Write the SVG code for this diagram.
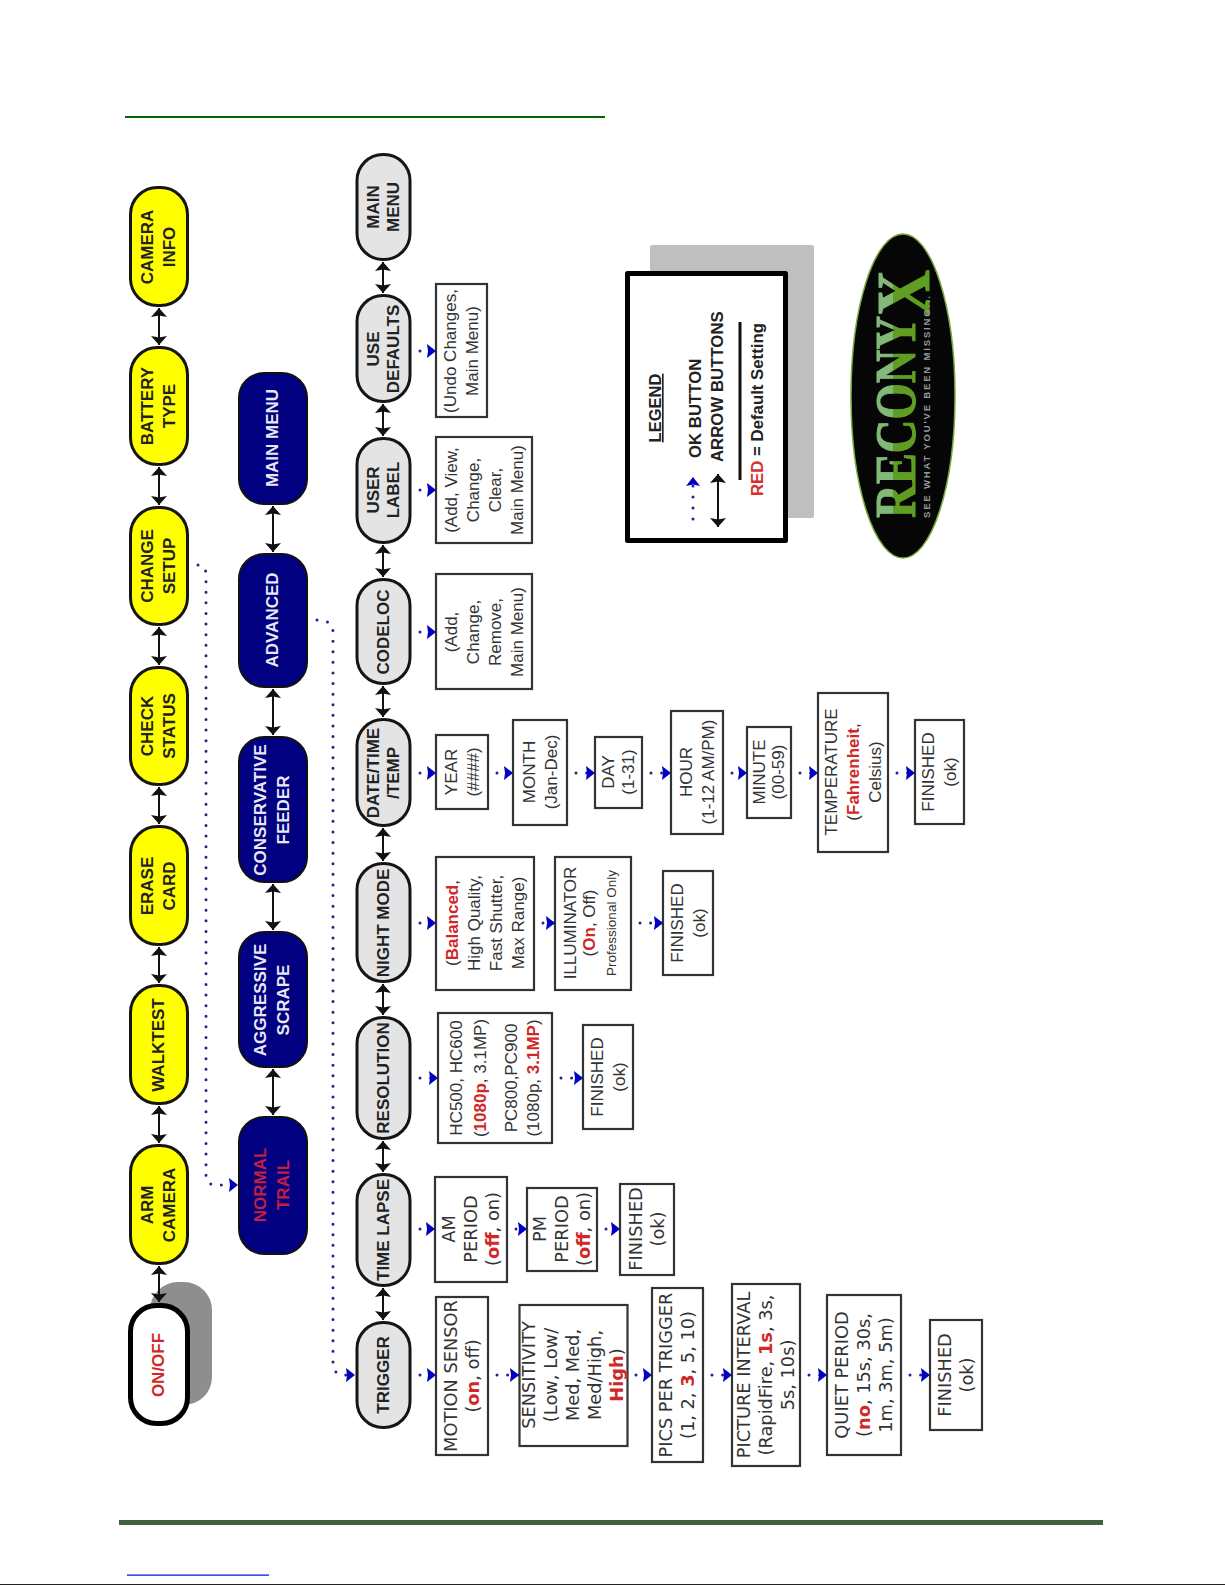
<svg xmlns="http://www.w3.org/2000/svg" width="1225" height="1585" viewBox="0 0 1225 1585">
<style>
text{font-family:"Liberation Sans",Arial,sans-serif;text-anchor:middle;fill:#222}
.n text,text.b{font-weight:bold;font-size:17px}
.y rect{fill:#ffff00;stroke:#151515;stroke-width:3}
.g rect{fill:#e4e4e4;stroke:#151515;stroke-width:3}
.d rect{fill:#000080;stroke:#111;stroke-width:2}
.d text{fill:#e8e8f4}
.box rect{fill:#fff;stroke:#333;stroke-width:2.2}
.box text{font-size:17px;fill:#333}
.dv text{font-family:"DejaVu Sans",sans-serif;font-size:17.8px}
.r{fill:#d02828;font-weight:bold}
.a{fill:none;stroke:#111;stroke-width:2;marker-start:url(#ah);marker-end:url(#ah)}
.o{fill:none;stroke:#22228a;stroke-width:3;stroke-linecap:round;stroke-dasharray:0 10.6;marker-end:url(#bh)}
.l{text-anchor:start}
</style>
<defs>
<marker id="ah" viewBox="-10 -9 11 18" refX="0" refY="0" markerUnits="userSpaceOnUse" markerWidth="11" markerHeight="18" orient="auto-start-reverse"><path d="M-9 -8L0 0L-9 8L-7.500 0z" fill="#111"/></marker>
<marker id="bh" viewBox="-10 -8 11 16" refX="0" refY="0" markerUnits="userSpaceOnUse" markerWidth="11" markerHeight="16" orient="auto"><path d="M-9 -7L0 0L-9 7L-8 0z" fill="#0000c0"/></marker>
<linearGradient id="rx" gradientUnits="userSpaceOnUse" x1="0" y1="-40" x2="0" y2="40"><stop offset="0.22" stop-color="#82b878"/><stop offset="0.22" stop-color="#5f9e22"/></linearGradient>
</defs>
<rect width="1225" height="1585" fill="#fff"/>
<rect x="125" y="116" width="480" height="2" fill="#006400"/>
<rect x="119" y="1520" width="984" height="5" fill="#3f6142"/>
<rect x="127" y="1574.5" width="142" height="1.2" fill="#0000ee"/>
<rect x="0" y="1584" width="1225" height="1" fill="#222"/>

<g class="n y">
<g id="on-off"><rect x="150" y="1282" width="62" height="123" rx="28" style="fill:#8e8e8e;stroke:none"/><rect x="130.500" y="1305.500" width="57" height="118" rx="26" style="fill:#fff;stroke:#000;stroke-width:5"/><text transform="translate(158,1365) rotate(-90)" y="6" style="fill:#d02828">ON/OFF</text></g>
<g id="arm-camera"><rect x="130.500" y="1145.500" width="57" height="118" rx="27"/><text transform="translate(158,1205) rotate(-90)"><tspan x="0" y="-5">ARM</tspan><tspan x="0" y="17">CAMERA</tspan></text></g>
<g id="walktest"><rect x="130.500" y="985.500" width="57" height="118" rx="27"/><text transform="translate(158,1045) rotate(-90)" y="6">WALKTEST</text></g>
<g id="erase-card"><rect x="130.500" y="826.500" width="57" height="118" rx="27"/><text transform="translate(158,886) rotate(-90)"><tspan x="0" y="-5">ERASE</tspan><tspan x="0" y="17">CARD</tspan></text></g>
<g id="check-status"><rect x="130.500" y="667.500" width="57" height="117" rx="27"/><text transform="translate(158,726) rotate(-90)"><tspan x="0" y="-5">CHECK</tspan><tspan x="0" y="17">STATUS</tspan></text></g>
<g id="change-setup"><rect x="130.500" y="507.500" width="57" height="117" rx="27"/><text transform="translate(158,566) rotate(-90)"><tspan x="0" y="-5">CHANGE</tspan><tspan x="0" y="17">SETUP</tspan></text></g>
<g id="battery-type"><rect x="130.500" y="347.500" width="57" height="117" rx="27"/><text transform="translate(158,406) rotate(-90)"><tspan x="0" y="-5">BATTERY</tspan><tspan x="0" y="17">TYPE</tspan></text></g>
<g id="camera-info"><rect x="130.500" y="187.500" width="57" height="118" rx="27"/><text transform="translate(158,247) rotate(-90)"><tspan x="0" y="-5">CAMERA</tspan><tspan x="0" y="17">INFO</tspan></text></g>
</g>

<g class="n d">
<g id="normal-trail"><rect x="239" y="1117" width="68" height="137" rx="25"/><text transform="translate(272,1185) rotate(-90)"><tspan x="0" y="-6" style="fill:#c41e40">NORMAL</tspan><tspan x="0" y="17" style="fill:#c41e40">TRAIL</tspan></text></g>
<g id="aggressive-scrape"><rect x="239" y="932" width="68" height="135" rx="25"/><text transform="translate(272,1000) rotate(-90)"><tspan x="0" y="-6">AGGRESSIVE</tspan><tspan x="0" y="17">SCRAPE</tspan></text></g>
<g id="conservative-feeder"><rect x="239" y="737" width="68" height="145" rx="25"/><text transform="translate(272,810) rotate(-90)"><tspan x="0" y="-6">CONSERVATIVE</tspan><tspan x="0" y="17">FEEDER</tspan></text></g>
<g id="advanced"><rect x="239" y="554" width="68" height="133" rx="25"/><text transform="translate(272,620) rotate(-90)" y="6">ADVANCED</text></g>
<g id="main-menu-blue"><rect x="239" y="373" width="68" height="131" rx="25"/><text transform="translate(272,438) rotate(-90)" y="6">MAIN MENU</text></g>
</g>

<g class="n g">
<g id="trigger"><rect x="357" y="1322.500" width="53" height="105" rx="26"/><text transform="translate(383,1375) rotate(-90)" y="6">TRIGGER</text></g>
<g id="time-lapse"><rect x="357" y="1174.500" width="53" height="111" rx="26"/><text transform="translate(383,1230) rotate(-90)" y="6">TIME LAPSE</text></g>
<g id="resolution"><rect x="357" y="1017.500" width="53" height="121" rx="26"/><text transform="translate(383,1078) rotate(-90)" y="6">RESOLUTION</text></g>
<g id="night-mode"><rect x="357" y="863.500" width="53" height="118" rx="26"/><text transform="translate(383,923) rotate(-90)" y="6">NIGHT MODE</text></g>
<g id="date-time-temp"><rect x="357" y="719.500" width="53" height="106" rx="26"/><text transform="translate(383,773) rotate(-90)"><tspan x="0" y="-4">DATE/TIME</tspan><tspan x="0" y="16">/TEMP</tspan></text></g>
<g id="codeloc"><rect x="357" y="579.500" width="53" height="104" rx="26"/><text transform="translate(383,632) rotate(-90)" y="6">CODELOC</text></g>
<g id="user-label"><rect x="357" y="438.500" width="53" height="104" rx="26"/><text transform="translate(383,490) rotate(-90)"><tspan x="0" y="-4">USER</tspan><tspan x="0" y="16">LABEL</tspan></text></g>
<g id="use-defaults"><rect x="357" y="295.500" width="53" height="106" rx="26"/><text transform="translate(383,349) rotate(-90)"><tspan x="0" y="-4">USE</tspan><tspan x="0" y="16">DEFAULTS</tspan></text></g>
<g id="main-menu-gray"><rect x="357" y="154.500" width="53" height="105" rx="26"/><text transform="translate(383,207) rotate(-90)"><tspan x="0" y="-4">MAIN</tspan><tspan x="0" y="16">MENU</tspan></text></g>
</g>

<g class="box dv">
<g id="motion-sensor"><rect x="436" y="1297" width="52" height="158"/><text transform="translate(462,1376) rotate(-90)"><tspan x="0" y="-5">MOTION SENSOR</tspan><tspan x="0" y="17">(<tspan class="r">on</tspan>, off)</tspan></text></g>
<g id="sensitivity"><rect x="519.500" y="1305" width="108" height="141"/><text transform="translate(573,1375) rotate(-90)"><tspan x="0" y="-38">SENSITIVITY</tspan><tspan x="0" y="-16">(Low, Low/</tspan><tspan x="0" y="6">Med, Med,</tspan><tspan x="0" y="28">Med/High,</tspan><tspan x="0" y="50"><tspan class="r">High</tspan>)</tspan></text></g>
<g id="pics-per-trigger"><rect x="652" y="1288" width="51" height="174"/><text transform="translate(677,1375) rotate(-90)"><tspan x="0" y="-5">PICS PER TRIGGER</tspan><tspan x="0" y="17">(1, 2, <tspan class="r">3</tspan>, 5, 10)</tspan></text></g>
<g id="picture-interval"><rect x="732" y="1284" width="68" height="182"/><text transform="translate(766,1375) rotate(-90)"><tspan x="0" y="-16">PICTURE INTERVAL</tspan><tspan x="0" y="6">(RapidFire, <tspan class="r">1s</tspan>, 3s,</tspan><tspan x="0" y="28">5s, 10s)</tspan></text></g>
<g id="quiet-period"><rect x="827" y="1295" width="74" height="160"/><text transform="translate(864,1375) rotate(-90)"><tspan x="0" y="-16">QUIET PERIOD</tspan><tspan x="0" y="6">(<tspan class="r">no</tspan>, 15s, 30s,</tspan><tspan x="0" y="28">1m, 3m, 5m)</tspan></text></g>
<g id="finished-trigger"><rect x="930" y="1320" width="52" height="110"/><text transform="translate(956,1375) rotate(-90)"><tspan x="0" y="-5">FINISHED</tspan><tspan x="0" y="17">(ok)</tspan></text></g>
<g id="am-period"><rect x="435" y="1177" width="72" height="105"/><text transform="translate(471,1229) rotate(-90)"><tspan x="0" y="-16">AM</tspan><tspan x="0" y="6">PERIOD</tspan><tspan x="0" y="28">(<tspan class="r">off</tspan>, on)</tspan></text></g>
<g id="pm-period"><rect x="527" y="1188" width="70" height="83"/><text transform="translate(562,1229) rotate(-90)"><tspan x="0" y="-16">PM</tspan><tspan x="0" y="6">PERIOD</tspan><tspan x="0" y="28">(<tspan class="r">off</tspan>, on)</tspan></text></g>
<g id="finished-timelapse"><rect x="620" y="1184" width="54" height="91"/><text transform="translate(647,1229) rotate(-90)"><tspan x="0" y="-5">FINISHED</tspan><tspan x="0" y="17">(ok)</tspan></text></g>
</g>

<g class="box">
<g id="resolution-options"><rect x="438" y="1013" width="114" height="130"/><text transform="translate(495,1078) rotate(-90)"><tspan x="0" y="-33">HC500, HC600</tspan><tspan x="0" y="-9">(<tspan class="r">1080p</tspan>, 3.1MP)</tspan><tspan x="0" y="22">PC800,PC900</tspan><tspan x="0" y="44">(1080p, <tspan class="r">3.1MP</tspan>)</tspan></text></g>
<g id="finished-resolution"><rect x="583" y="1025" width="50" height="104"/><text transform="translate(608,1077) rotate(-90)"><tspan x="0" y="-5">FINISHED</tspan><tspan x="0" y="17">(ok)</tspan></text></g>
<g id="night-options"><rect x="436" y="857" width="98" height="133"/><text transform="translate(485,923) rotate(-90)"><tspan x="0" y="-27">(<tspan class="r">Balanced</tspan>,</tspan><tspan x="0" y="-5">High Quality,</tspan><tspan x="0" y="17">Fast Shutter,</tspan><tspan x="0" y="39">Max Range)</tspan></text></g>
<g id="illuminator"><rect x="555" y="857" width="76" height="133"/><text transform="translate(593,923) rotate(-90)"><tspan x="0" y="-17">ILLUMINATOR</tspan><tspan x="0" y="2">(<tspan class="r">On</tspan>, Off)</tspan><tspan x="0" y="23" style="font-size:13.500px">Professional Only</tspan></text></g>
<g id="finished-night"><rect x="663" y="871" width="50" height="104"/><text transform="translate(688,923) rotate(-90)"><tspan x="0" y="-5">FINISHED</tspan><tspan x="0" y="17">(ok)</tspan></text></g>
<g id="year"><rect x="436" y="735" width="52" height="74"/><text transform="translate(462,772) rotate(-90)"><tspan x="0" y="-5">YEAR</tspan><tspan x="0" y="17">(####)</tspan></text></g>
<g id="month"><rect x="513" y="720" width="54" height="105"/><text transform="translate(540,772) rotate(-90)"><tspan x="0" y="-5">MONTH</tspan><tspan x="0" y="17">(Jan-Dec)</tspan></text></g>
<g id="day"><rect x="595" y="737" width="47" height="71"/><text transform="translate(618,772) rotate(-90)"><tspan x="0" y="-4">DAY</tspan><tspan x="0" y="16">(1-31)</tspan></text></g>
<g id="hour"><rect x="671" y="711" width="52" height="123"/><text transform="translate(697,772) rotate(-90)"><tspan x="0" y="-5">HOUR</tspan><tspan x="0" y="17">(1-12 AM/PM)</tspan></text></g>
<g id="minute"><rect x="747" y="727" width="44" height="91"/><text transform="translate(769,772) rotate(-90)"><tspan x="0" y="-4">MINUTE</tspan><tspan x="0" y="15">(00-59)</tspan></text></g>
<g id="temperature"><rect x="818" y="693" width="70" height="159"/><text transform="translate(853,772) rotate(-90)"><tspan x="0" y="-16">TEMPERATURE</tspan><tspan x="0" y="6">(<tspan class="r">Fahrenheit</tspan>,</tspan><tspan x="0" y="28">Celsius)</tspan></text></g>
<g id="finished-date"><rect x="915" y="720" width="49" height="104"/><text transform="translate(939,772) rotate(-90)"><tspan x="0" y="-5">FINISHED</tspan><tspan x="0" y="17">(ok)</tspan></text></g>
<g id="codeloc-options"><rect x="436" y="574" width="96" height="115"/><text transform="translate(484,632) rotate(-90)"><tspan x="0" y="-27">(Add,</tspan><tspan x="0" y="-5">Change,</tspan><tspan x="0" y="17">Remove,</tspan><tspan x="0" y="39">Main Menu)</tspan></text></g>
<g id="user-label-options"><rect x="436" y="437" width="96" height="106"/><text transform="translate(484,490) rotate(-90)"><tspan x="0" y="-27">(Add, View,</tspan><tspan x="0" y="-5">Change,</tspan><tspan x="0" y="17">Clear,</tspan><tspan x="0" y="39">Main Menu)</tspan></text></g>
<g id="use-defaults-options"><rect x="436" y="284" width="51" height="133"/><text transform="translate(461,351) rotate(-90)"><tspan x="0" y="-5">(Undo Changes,</tspan><tspan x="0" y="17">Main Menu)</tspan></text></g>
</g>

<g id="legend">
<rect x="650" y="245" width="164" height="273" rx="2" fill="#bfbfbf"/>
<rect x="627.500" y="273.500" width="158" height="267" fill="#fff" stroke="#000" stroke-width="5" stroke-linejoin="round"/>
<text class="b" transform="translate(661,408) rotate(-90)" style="text-decoration:underline;font-size:16.500px">LEGEND</text>
<text class="b l" transform="translate(701,458) rotate(-90)" style="font-size:16.800px">OK BUTTON</text>
<text class="b l" transform="translate(723,462) rotate(-90)" style="font-size:16.800px">ARROW BUTTONS</text>
<rect x="738.500" y="322" width="3" height="158" fill="#111"/>
<text class="b l" transform="translate(763,496) rotate(-90)" style="font-size:16.800px"><tspan fill="#d83030">RED</tspan> = Default Setting</text>
<path d="M693 519V484" fill="none" stroke="#22228a" stroke-width="3" stroke-linecap="round" stroke-dasharray="0 11"/>
<path d="M686 486L693 477L700 486L693 484.500z" fill="#0000c0"/>
<path class="a" d="M718 474V527"/>
</g>

<g id="logo">
<ellipse cx="903" cy="396" rx="52" ry="162" fill="#060606" stroke="#7aa83c" stroke-width="1.500"/>
<text transform="translate(915,518) rotate(-90)" textLength="248" lengthAdjust="spacingAndGlyphs" style="font-family:'Liberation Serif',serif;font-weight:bold;font-size:56px;text-anchor:start;fill:url(#rx);stroke:url(#rx);stroke-width:1">RECONY<tspan style="font-size:76px" dy="14">X</tspan></text>
<text transform="translate(930,518) rotate(-90)" textLength="222" style="font-size:9.500px;font-weight:bold;text-anchor:start;fill:#9a9a9a">SEE WHAT YOU'VE BEEN MISSING...</text>
</g>

<g id="connectors">
<path class="a" d="M159 308V345"/><path class="a" d="M159 467V505"/><path class="a" d="M159 627V665"/><path class="a" d="M159 787V824"/><path class="a" d="M159 947V983"/><path class="a" d="M159 1106V1143"/><path class="a" d="M159 1266V1302"/>
<path class="a" d="M273 506V552"/><path class="a" d="M273 689V735"/><path class="a" d="M273 884V930"/><path class="a" d="M273 1069V1115"/>
<path class="a" d="M383 262V293"/><path class="a" d="M383 404V436"/><path class="a" d="M383 545V577"/><path class="a" d="M383 686V717"/><path class="a" d="M383 828V861"/><path class="a" d="M383 984V1015"/><path class="a" d="M383 1141V1172"/><path class="a" d="M383 1288V1320"/>
<path class="o" d="M198 565Q206 565 206 575V1175Q206 1185 216 1185L238 1185"/>
<path class="o" d="M317 620Q333 620 333 632V1363Q333 1375 345 1375L355 1375"/>
<path class="o" d="M420 1375H436"/><path class="o" d="M497 1375H519"/><path class="o" d="M636 1375H652"/><path class="o" d="M712 1375H732"/><path class="o" d="M809 1375H827"/><path class="o" d="M910 1375H930"/>
<path class="o" d="M420 1229H435"/><path class="o" d="M516 1229H527"/><path class="o" d="M606 1229H620"/>
<path class="o" d="M420 1078H438"/><path class="o" d="M561 1078H583"/>
<path class="o" d="M420 923H436"/><path class="o" d="M543 923H555"/><path class="o" d="M640 923H663"/>
<path class="o" d="M420 773H436"/><path class="o" d="M497 773H513"/><path class="o" d="M576 773H595"/><path class="o" d="M651 773H671"/><path class="o" d="M732 773H747"/><path class="o" d="M800 773H818"/><path class="o" d="M897 773H915"/>
<path class="o" d="M420 632H436"/><path class="o" d="M420 490H436"/><path class="o" d="M420 351H436"/>
</g>
</svg>
